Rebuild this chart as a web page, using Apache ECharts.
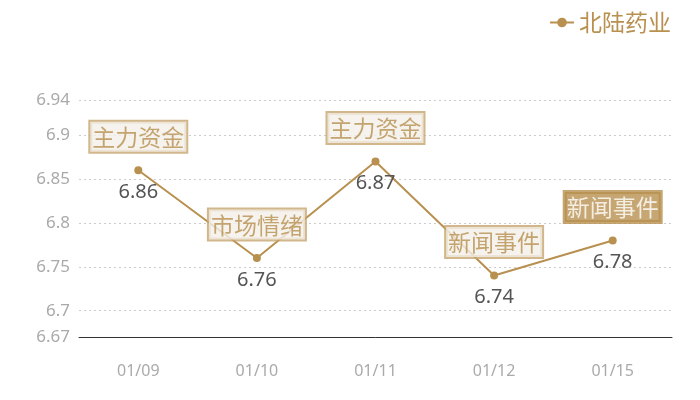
<!DOCTYPE html>
<html lang="zh">
<head>
    <meta charset="UTF-8">
    <title>北陆药业</title>
    <script src="https://cdn.jsdelivr.net/npm/echarts@6/dist/echarts.min.js"></script>
    <style>
        html, body { margin: 0; padding: 0; background: #fff; }
        #main { width: 700px; height: 400px; }
    </style>
</head>
<body>
<div id="main"></div>
<script>
    // 数据
    var dates = ['01/09', '01/10', '01/11', '01/12', '01/15'];
    var prices = [6.86, 6.76, 6.87, 6.74, 6.78];
    var tags = ['主力资金', '市场情绪', '主力资金', '新闻事件', '新闻事件'];
    var highlightIdx = 4; // 最后一个标签是实心的

    var gold = '#b8904f';

    var tagData = prices.map(function (v, i) {
        var item = { value: v, name: tags[i] };
        if (i === highlightIdx) {
            item.label = { backgroundColor: gold, borderColor: gold, color: '#fff' };
        }
        return item;
    });

    var myChart = echarts.init(document.getElementById('main'));

    var option = {
        animation: false,
        textStyle: { fontFamily: 'Noto Sans' },
        legend: {
            data: ['北陆药业'],
            top: 6,
            right: 24,
            itemWidth: 24,
            itemHeight: 12,
            itemGap: 6,
            textStyle: { color: gold, fontSize: 23, fontFamily: 'Noto Sans CJK SC' }
        },
        grid: { left: 79, right: 28, top: 100, bottom: 63 },
        xAxis: {
            type: 'category',
            data: dates,
            axisLine: { lineStyle: { color: '#333' } },
            axisTick: { show: false },
            axisLabel: { color: '#aaa', fontSize: 16, margin: 26 }
        },
        yAxis: {
            type: 'value',
            min: 6.67,
            max: 6.94,
            splitNumber: 5,
            axisLine: { show: false },
            axisTick: { show: false },
            axisLabel: { color: '#aaa', fontSize: 17, margin: 9 },
            splitLine: { lineStyle: { color: '#ccc', type: [2, 3] } }
        },
        series: [
            {
                name: '北陆药业',
                type: 'line',
                data: prices,
                symbol: 'circle',
                symbolSize: 8,
                itemStyle: { color: gold },
                lineStyle: { color: gold, width: 2 },
                label: {
                    show: true,
                    position: 'bottom',
                    distance: 8,
                    color: '#555',
                    fontSize: 20
                },
                z: 2
            },
            {
                name: 'tags',
                type: 'scatter',
                data: tagData,
                symbolSize: 1,
                itemStyle: { color: 'transparent' },
                label: {
                    show: true,
                    position: 'top',
                    distance: 18,
                    formatter: '{b}',
                    color: gold,
                    fontSize: 23,
                    fontFamily: 'Noto Sans CJK SC',
                    backgroundColor: '#f4f0ea',
                    borderColor: '#c6a56e',
                    borderWidth: 2,
                    padding: [4, 2, 3, 2]
                },
                z: 5
            }
        ]
    };

    // 显示图表
    myChart.setOption(option);
</script>
</body>
</html>
